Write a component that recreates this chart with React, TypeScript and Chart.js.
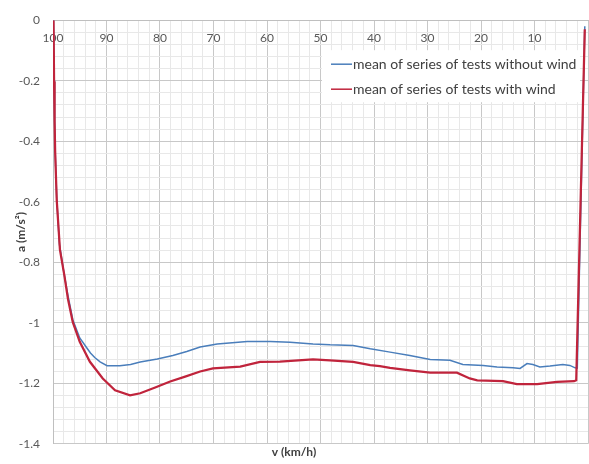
import React, { useEffect, useRef } from 'react';
import { Chart, registerables } from 'chart.js';

Chart.register(...registerables);

// Series without wind (blue)
const BLUE_V = [99.9, 99.8, 99.7, 99.6, 99.3, 98.8, 98.0, 97.2, 96.3, 95.0, 93.6, 93.0, 92.2, 91.2, 89.9, 87.5, 85.5, 83.7, 80.5, 77.6, 75.0, 72.5, 69.3, 63.7, 59.4, 55.7, 51.4, 48.2, 43.9, 40.7, 37.0, 33.3, 29.5, 25.8, 23.4, 19.6, 17.0, 14.0, 12.7, 11.4, 10.3, 9.0, 7.1, 4.7, 3.4, 2.4, 2.0, 0.6];
const BLUE_A = [0, -0.2, -0.33, -0.43, -0.59, -0.74, -0.83, -0.91, -0.99, -1.05, -1.085, -1.1, -1.115, -1.129, -1.142, -1.142, -1.138, -1.13, -1.12, -1.108, -1.095, -1.08, -1.07, -1.062, -1.062, -1.064, -1.07, -1.073, -1.075, -1.086, -1.097, -1.108, -1.121, -1.124, -1.138, -1.141, -1.146, -1.149, -1.151, -1.135, -1.138, -1.146, -1.143, -1.138, -1.141, -1.149, -1.15, -0.02];

// Series with wind (red)
const RED_V = [99.9, 99.8, 99.7, 99.6, 99.3, 98.7, 97.9, 97.2, 96.3, 95.0, 93.1, 90.7, 88.4, 85.6, 83.7, 80.9, 78.1, 75.3, 72.5, 70.1, 65.0, 61.3, 57.6, 51.4, 48.2, 43.9, 40.7, 38.9, 37.0, 33.3, 29.5, 24.5, 22.1, 20.7, 15.9, 13.3, 9.5, 5.8, 2.6, 2.2, 0.6];
const RED_A = [0, -0.203, -0.334, -0.432, -0.595, -0.759, -0.841, -0.922, -0.998, -1.063, -1.129, -1.184, -1.223, -1.24, -1.233, -1.214, -1.194, -1.178, -1.161, -1.151, -1.145, -1.129, -1.128, -1.121, -1.124, -1.129, -1.14, -1.143, -1.149, -1.157, -1.165, -1.165, -1.184, -1.19, -1.193, -1.203, -1.203, -1.195, -1.193, -1.19, -0.03];

const SERIES_NAMES = ['mean of series of tests without wind', 'mean of series of tests with wind'];
const X_TICK_LABELS = [100, 90, 80, 70, 60, 50, 40, 30, 20, 10];
const Y_TICK_LABELS = [0, -0.2, -0.4, -0.6, -0.8, -1, -1.2, -1.4];
const X_TITLE = 'v (km/h)';
const Y_TITLE = 'a (m/s²)';

const FONT = 'Lato, "Liberation Sans", sans-serif';

const isMajorY = (v: number) => Y_TICK_LABELS.some((t) => Math.abs(t - v) < 1e-6);
const isMajorX = (v: number) => Math.abs(v / 10 - Math.round(v / 10)) < 1e-6;

const boxLegend = {
  id: 'boxLegend',
  afterDatasetsDraw(chart: any) {
    const { ctx, chartArea } = chart;
    const w = 258;
    const h = 52;
    const x0 = chartArea.right - w - 8;
    const y0 = chartArea.top + 30;
    ctx.save();
    ctx.fillStyle = '#ffffff';
    ctx.fillRect(x0, y0, w, h);
    ctx.font = `14px ${FONT}`;
    ctx.textBaseline = 'middle';
    ctx.textAlign = 'left';
    chart.data.datasets.forEach((ds: any, i: number) => {
      const y = y0 + 14 + i * 25;
      ctx.strokeStyle = ds.borderColor;
      ctx.lineWidth = 1.5;
      ctx.beginPath();
      ctx.moveTo(x0 + 9, y);
      ctx.lineTo(x0 + 30, y);
      ctx.stroke();
      ctx.fillStyle = '#404040';
      ctx.fillText(ds.label, x0 + 31, y);
    });
    ctx.restore();
  },
};

export default function App() {
  const ref = useRef<HTMLCanvasElement>(null);
  useEffect(() => {
    if (!ref.current) return;
    const blue = BLUE_V.map((v, i) => ({ x: v, y: BLUE_A[i] }));
    const red = RED_V.map((v, i) => ({ x: v, y: RED_A[i] }));
    const chart = new Chart(ref.current, {
      type: 'line',
      data: {
        datasets: [
          { label: SERIES_NAMES[0], data: blue, borderColor: '#4a7ebb', borderWidth: 1.5, pointRadius: 0, tension: 0, fill: false, order: 1 },
          { label: SERIES_NAMES[1], data: red, borderColor: '#c0243c', borderWidth: 2.25, pointRadius: 0, tension: 0, fill: false, order: 0 },
        ],
      },
      options: {
        animation: false,
        responsive: false,
        layout: { padding: { top: 18, right: 1, left: 0, bottom: 0 } },
        plugins: {
          legend: { display: false },
          tooltip: { enabled: false },
          title: {
            display: true,
            position: 'bottom',
            text: X_TITLE,
            color: '#404040',
            font: { family: FONT, size: 12, weight: 'bold', lineHeight: 1.2 },
            padding: { top: 1, bottom: 2 },
          },
        },
        scales: {
          x: {
            type: 'linear',
            reverse: true,
            min: 0,
            max: 100,
            position: { y: 0 } as any,
            ticks: {
              stepSize: 2,
              autoSkip: false,
              maxRotation: 0,
              padding: 11,
              color: '#595959',
              font: { family: FONT, size: 12 },
              callback: (v: any) => (X_TICK_LABELS.includes(Number(v)) ? String(v) : ''),
            },
            grid: {
              drawTicks: false,
              color: (c: any) => (isMajorX(c.tick.value) ? '#c8c8c8' : '#e8e8e8'),
            },
            border: { color: '#bfbfbf' },
            afterFit: (s: any) => {
              s.paddingLeft = 0;
              s.paddingRight = 0;
            },
          },
          y: {
            type: 'linear',
            min: -1.4,
            max: 0,
            ticks: {
              stepSize: 0.04,
              autoSkip: false,
              padding: 13,
              color: '#595959',
              font: { family: FONT, size: 12 },
              callback: (v: any) => (isMajorY(Number(v)) ? String(Number(Number(v).toFixed(1))) : ''),
            },
            grid: {
              drawTicks: false,
              color: (c: any) => (isMajorY(c.tick.value) ? '#c8c8c8' : '#e8e8e8'),
            },
            border: { color: '#bfbfbf' },
            title: {
              display: true,
              text: Y_TITLE,
              color: '#404040',
              font: { family: FONT, size: 12, weight: 'bold' },
              padding: { top: 14, bottom: 0 },
            },
            afterFit: (s: any) => {
              s.width = 53;
            },
          },
        },
      },
      plugins: [boxLegend],
    } as any);
    return () => chart.destroy();
  }, []);
  return (
    <div style={{ position: 'absolute', left: 0, top: 0, width: 589, height: 464, background: '#ffffff' }}>
      <canvas ref={ref} width={589} height={464} style={{ display: 'block' }} />
    </div>
  );
}
